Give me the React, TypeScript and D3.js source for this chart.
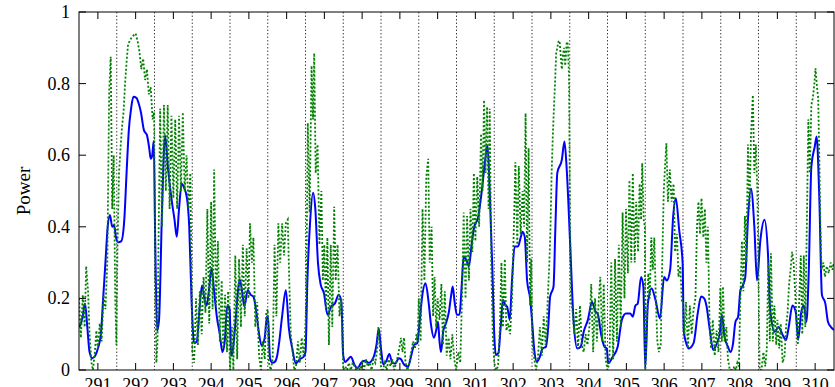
import React from "react";
import * as d3 from "d3";

const xTicks = [291, 292, 293, 294, 295, 296, 297, 298, 299, 300, 301, 302, 303, 304, 305, 306, 307, 308, 309, 310];
const yTicks = [0, 0.2, 0.4, 0.6, 0.8, 1];
const yTickLabels = ["0", "0.2", "0.4", "0.6", "0.8", "1"];
const boundaries = [291.5, 292.5, 293.5, 294.5, 295.5, 296.5, 297.5, 298.5, 299.5, 300.5, 301.5, 302.5, 303.5, 304.5, 305.5, 306.5, 307.5, 308.5, 309.5];
const yLabel = "Power";

const blueSeries: [number, number][] = [
  [290.50,0.12],[290.55,0.13],[290.60,0.15],[290.66,0.186],[290.72,0.12],[290.78,0.05],[290.85,0.033],[290.93,0.04],[291.00,0.06],[291.08,0.10],[291.14,0.20],[291.20,0.30],[291.26,0.40],[291.32,0.433],[291.38,0.40],[291.43,0.405],[291.48,0.37],[291.54,0.357],[291.62,0.36],[291.70,0.42],[291.76,0.55],[291.82,0.67],[291.88,0.73],[291.94,0.763],[292.02,0.76],[292.08,0.745],[292.14,0.72],[292.22,0.67],[292.30,0.656],[292.36,0.62],[292.40,0.59],[292.44,0.60],[292.48,0.64],[292.52,0.35],[292.57,0.11],[292.62,0.14],[292.70,0.45],[292.78,0.655],[292.86,0.56],[292.96,0.47],[293.03,0.42],[293.09,0.372],[293.15,0.45],[293.22,0.52],[293.28,0.51],[293.36,0.48],[293.42,0.40],[293.48,0.20],[293.55,0.075],[293.62,0.08],[293.70,0.18],[293.76,0.237],[293.82,0.20],[293.88,0.18],[293.94,0.22],[294.01,0.285],[294.08,0.22],[294.15,0.15],[294.23,0.10],[294.30,0.05],[294.36,0.08],[294.43,0.18],[294.49,0.17],[294.53,0.04],[294.58,0.06],[294.65,0.14],[294.72,0.23],[294.76,0.252],[294.82,0.22],[294.88,0.177],[294.97,0.223],[295.05,0.21],[295.12,0.205],[295.20,0.16],[295.27,0.10],[295.34,0.068],[295.42,0.09],[295.48,0.15],[295.51,0.14],[295.56,0.033],[295.63,0.02],[295.69,0.023],[295.75,0.04],[295.80,0.075],[295.88,0.15],[295.98,0.223],[296.06,0.116],[296.15,0.06],[296.24,0.019],[296.35,0.03],[296.45,0.037],[296.50,0.05],[296.55,0.25],[296.62,0.41],[296.70,0.495],[296.76,0.45],[296.83,0.30],[296.90,0.24],[296.99,0.214],[297.08,0.155],[297.18,0.177],[297.28,0.186],[297.38,0.21],[297.45,0.19],[297.50,0.04],[297.55,0.022],[297.63,0.03],[297.70,0.037],[297.80,0.014],[297.88,0.005],[297.97,0.02],[298.07,0.026],[298.18,0.02],[298.30,0.035],[298.38,0.07],[298.44,0.116],[298.50,0.06],[298.56,0.016],[298.64,0.025],[298.72,0.045],[298.80,0.02],[298.88,0.018],[298.97,0.033],[299.03,0.03],[299.11,0.015],[299.22,0.01],[299.30,0.04],[299.38,0.07],[299.46,0.075],[299.52,0.13],[299.58,0.196],[299.68,0.242],[299.76,0.19],[299.82,0.13],[299.90,0.09],[299.96,0.11],[300.01,0.135],[300.05,0.08],[300.09,0.05],[300.15,0.11],[300.22,0.13],[300.30,0.163],[300.36,0.21],[300.40,0.233],[300.45,0.19],[300.51,0.154],[300.58,0.155],[300.64,0.24],[300.69,0.317],[300.76,0.307],[300.83,0.29],[300.90,0.35],[300.97,0.40],[301.07,0.425],[301.17,0.50],[301.26,0.587],[301.32,0.628],[301.38,0.50],[301.45,0.28],[301.50,0.10],[301.54,0.042],[301.61,0.047],[301.67,0.12],[301.73,0.196],[301.80,0.18],[301.84,0.177],[301.91,0.14],[301.97,0.25],[302.04,0.345],[302.13,0.345],[302.20,0.37],[302.25,0.386],[302.31,0.37],[302.37,0.25],[302.45,0.20],[302.50,0.14],[302.56,0.056],[302.63,0.023],[302.70,0.035],[302.78,0.06],[302.87,0.065],[302.93,0.12],[302.98,0.205],[303.07,0.233],[303.12,0.40],[303.17,0.55],[303.29,0.587],[303.36,0.638],[303.42,0.56],[303.51,0.354],[303.60,0.14],[303.70,0.06],[303.79,0.065],[303.87,0.107],[303.98,0.14],[304.09,0.19],[304.18,0.163],[304.24,0.158],[304.33,0.10],[304.42,0.065],[304.48,0.06],[304.52,0.019],[304.64,0.037],[304.77,0.065],[304.88,0.14],[304.99,0.158],[305.10,0.158],[305.17,0.149],[305.24,0.18],[305.30,0.185],[305.39,0.26],[305.45,0.233],[305.50,0.005],[305.57,0.186],[305.67,0.228],[305.77,0.196],[305.89,0.144],[306.00,0.26],[306.07,0.25],[306.16,0.28],[306.24,0.43],[306.31,0.48],[306.40,0.39],[306.49,0.30],[306.52,0.11],[306.60,0.07],[306.65,0.06],[306.78,0.075],[306.89,0.158],[306.98,0.205],[307.06,0.20],[307.12,0.18],[307.21,0.112],[307.30,0.056],[307.38,0.07],[307.47,0.10],[307.53,0.154],[307.60,0.093],[307.69,0.065],[307.76,0.05],[307.82,0.07],[307.89,0.135],[307.96,0.149],[308.02,0.223],[308.09,0.237],[308.15,0.26],[308.22,0.42],[308.30,0.507],[308.39,0.40],[308.46,0.25],[308.55,0.363],[308.66,0.42],[308.75,0.326],[308.81,0.168],[308.93,0.107],[309.03,0.12],[309.14,0.098],[309.23,0.084],[309.30,0.12],[309.40,0.18],[309.49,0.16],[309.55,0.084],[309.63,0.16],[309.70,0.18],[309.77,0.135],[309.83,0.27],[309.90,0.568],[309.99,0.624],[310.04,0.652],[310.11,0.484],[310.18,0.21],[310.27,0.186],[310.34,0.135],[310.42,0.12],[310.50,0.112]
];

const greenSeries: [number, number][] = [
  [290.50,0.20],[290.55,0.09],[290.60,0.21],[290.65,0.12],[290.69,0.29],[290.74,0.22],[290.78,0.10],[290.83,0.02],[290.87,0.0],[290.92,0.05],[290.96,0.11],[291.00,0.06],
  [291.05,0.13],[291.10,0.08],[291.15,0.21],[291.20,0.17],[291.25,0.30],[291.30,0.78],[291.34,0.875],[291.38,0.45],[291.42,0.60],[291.46,0.20],[291.49,0.07],
  [291.52,0.35],[291.56,0.55],[291.60,0.62],[291.64,0.68],[291.68,0.72],[291.72,0.80],[291.76,0.86],[291.80,0.91],[291.85,0.92],[291.90,0.93],[291.95,0.935],[292.00,0.94],
  [292.05,0.92],[292.10,0.89],[292.15,0.84],[292.20,0.87],[292.25,0.81],[292.30,0.84],[292.35,0.77],[292.40,0.79],[292.45,0.70],[292.49,0.72],
  [292.52,0.25],[292.55,0.02],[292.58,0.08],
  [292.60,0.30],[292.65,0.73],[292.70,0.40],[292.75,0.74],[292.80,0.50],[292.85,0.74],[292.90,0.45],[292.95,0.71],[293.00,0.48],[293.05,0.70],[293.10,0.45],[293.15,0.71],[293.20,0.50],[293.25,0.72],[293.30,0.50],[293.35,0.60],[293.40,0.45],[293.45,0.55],[293.50,0.05],
  [293.55,0.02],[293.60,0.20],[293.65,0.07],[293.70,0.22],[293.75,0.10],[293.80,0.26],[293.85,0.16],[293.90,0.45],[293.95,0.13],[294.00,0.47],
  [294.04,0.17],[294.08,0.56],[294.13,0.18],[294.18,0.36],[294.23,0.08],[294.28,0.25],[294.32,0.06],[294.37,0.21],[294.42,0.05],[294.45,0.22],[294.50,0.0],
  [294.55,0.12],[294.59,0.0],[294.64,0.32],[294.69,0.03],[294.74,0.31],[294.79,0.12],[294.84,0.35],[294.89,0.15],[294.94,0.34],[294.99,0.20],
  [295.03,0.41],[295.08,0.30],[295.12,0.37],[295.17,0.12],[295.22,0.19],[295.27,0.04],[295.32,0.0],[295.37,0.08],[295.42,0.03],[295.46,0.16],[295.50,0.17],[295.53,0.02],
  [295.58,0.0],[295.63,0.03],[295.68,0.35],[295.73,0.15],[295.78,0.41],[295.83,0.30],[295.88,0.41],[295.93,0.32],[295.98,0.41],[296.03,0.42],
  [296.07,0.25],[296.11,0.10],[296.15,0.06],[296.20,0.0],[296.25,0.01],[296.30,0.08],[296.35,0.02],[296.40,0.09],[296.45,0.04],[296.49,0.10],
  [296.52,0.20],[296.56,0.69],[296.61,0.44],[296.66,0.85],[296.70,0.70],[296.73,0.885],[296.77,0.55],[296.82,0.63],[296.87,0.35],[296.92,0.50],[296.96,0.25],[297.00,0.35],
  [297.04,0.17],[297.08,0.37],[297.12,0.07],[297.17,0.35],[297.21,0.12],[297.26,0.456],[297.30,0.25],[297.35,0.35],[297.40,0.15],[297.45,0.20],[297.50,0.0],
  [297.55,0.01],[297.60,0.0],[297.65,0.02],[297.70,0.0],[297.75,0.02],[297.80,0.01],[297.85,0.0],[297.90,0.01],[297.95,0.0],[298.00,0.02],[298.05,0.0],[298.10,0.03],[298.15,0.01],[298.20,0.02],[298.25,0.0],[298.30,0.03],[298.35,0.02],[298.40,0.06],[298.43,0.12],[298.46,0.08],[298.50,0.01],
  [298.55,0.0],[298.60,0.02],[298.65,0.0],[298.70,0.03],[298.75,0.01],[298.80,0.03],[298.85,0.0],[298.90,0.02],[298.95,0.04],[299.00,0.07],[299.03,0.09],[299.07,0.05],[299.11,0.09],[299.15,0.02],[299.20,0.0],[299.25,0.02],[299.30,0.05],[299.35,0.08],[299.40,0.06],[299.44,0.10],[299.47,0.08],
  [299.50,0.20],[299.55,0.08],[299.60,0.45],[299.65,0.25],[299.70,0.54],[299.75,0.59],[299.79,0.30],[299.84,0.40],[299.88,0.15],[299.92,0.26],[299.96,0.12],[300.00,0.20],
  [300.05,0.14],[300.10,0.24],[300.14,0.07],[300.19,0.22],[300.24,0.04],[300.29,0.09],[300.34,0.03],[300.39,0.10],[300.44,0.03],[300.49,0.0],
  [300.55,0.05],[300.60,0.02],[300.65,0.22],[300.69,0.44],[300.74,0.20],[300.78,0.43],[300.83,0.25],[300.87,0.45],[300.92,0.33],[300.96,0.55],
  [301.00,0.36],[301.05,0.54],[301.10,0.40],[301.15,0.66],[301.19,0.50],[301.23,0.754],[301.27,0.55],[301.31,0.735],[301.35,0.45],[301.38,0.73],[301.42,0.30],[301.46,0.10],[301.50,0.02],
  [301.55,0.0],[301.60,0.01],[301.65,0.12],[301.69,0.30],[301.73,0.12],[301.78,0.31],[301.82,0.11],[301.87,0.13],[301.92,0.10],[301.97,0.20],
  [302.02,0.40],[302.06,0.58],[302.11,0.35],[302.15,0.57],[302.20,0.38],[302.25,0.50],[302.29,0.40],[302.33,0.717],[302.37,0.30],[302.41,0.62],[302.45,0.18],[302.48,0.31],[302.51,0.08],
  [302.56,0.03],[302.61,0.0],[302.66,0.04],[302.71,0.12],[302.76,0.04],[302.81,0.15],[302.86,0.07],[302.90,0.15],[302.93,0.23],[302.96,0.30],[302.99,0.40],
  [303.02,0.55],[303.05,0.65],[303.08,0.73],[303.11,0.80],[303.14,0.885],[303.17,0.90],[303.20,0.917],[303.23,0.92],[303.26,0.88],[303.29,0.84],[303.32,0.88],[303.35,0.90],[303.38,0.85],[303.42,0.917],[303.45,0.91],[303.48,0.82],[303.51,0.40],[303.53,0.19],
  [303.57,0.17],[303.62,0.10],[303.67,0.17],[303.72,0.06],[303.77,0.18],[303.82,0.07],[303.87,0.05],[303.92,0.10],[303.97,0.07],[304.02,0.12],
  [304.07,0.24],[304.12,0.05],[304.17,0.20],[304.22,0.08],[304.27,0.20],[304.31,0.26],[304.36,0.08],[304.40,0.24],[304.45,0.03],[304.50,0.0],
  [304.55,0.02],[304.60,0.30],[304.65,0.03],[304.70,0.31],[304.75,0.08],[304.80,0.35],[304.85,0.12],[304.90,0.44],[304.95,0.20],[304.99,0.45],
  [305.04,0.27],[305.08,0.53],[305.13,0.30],[305.17,0.55],[305.22,0.30],[305.26,0.47],[305.31,0.33],[305.35,0.52],[305.39,0.42],[305.42,0.578],[305.46,0.42],[305.49,0.40],[305.50,0.0],
  [305.54,0.12],[305.58,0.27],[305.62,0.20],[305.66,0.37],[305.70,0.28],[305.74,0.37],[305.78,0.20],[305.82,0.08],[305.86,0.05],[305.91,0.07],[305.95,0.30],[305.99,0.50],
  [306.03,0.58],[306.06,0.633],[306.10,0.47],[306.15,0.56],[306.20,0.47],[306.25,0.52],[306.29,0.33],[306.34,0.38],[306.38,0.26],[306.43,0.29],[306.47,0.19],[306.50,0.19],
  [306.54,0.10],[306.58,0.19],[306.63,0.06],[306.68,0.18],[306.73,0.10],[306.78,0.17],[306.83,0.20],[306.87,0.40],[306.91,0.47],[306.95,0.38],[306.99,0.48],
  [307.04,0.37],[307.08,0.45],[307.12,0.30],[307.16,0.40],[307.20,0.15],[307.24,0.06],[307.29,0.14],[307.34,0.04],[307.39,0.11],[307.44,0.05],[307.49,0.23],
  [307.53,0.08],[307.56,0.233],[307.60,0.08],[307.65,0.12],[307.69,0.03],[307.74,0.0],[307.78,0.0],[307.82,0.0],[307.86,0.01],[307.90,0.0],[307.94,0.02],[307.98,0.01],
  [308.02,0.20],[308.06,0.36],[308.10,0.22],[308.14,0.43],[308.18,0.30],[308.22,0.63],[308.26,0.45],[308.30,0.65],[308.35,0.768],[308.39,0.55],[308.43,0.63],[308.47,0.50],[308.50,0.26],
  [308.53,0.0],[308.58,0.0],[308.63,0.05],[308.68,0.01],[308.72,0.06],[308.76,0.30],[308.80,0.08],[308.83,0.326],[308.88,0.08],[308.92,0.18],[308.97,0.07],[309.00,0.14],
  [309.05,0.06],[309.09,0.13],[309.14,0.02],[309.19,0.04],[309.23,0.12],[309.27,0.16],[309.31,0.24],[309.35,0.28],[309.39,0.33],[309.43,0.30],[309.47,0.22],[309.50,0.15],
  [309.54,0.07],[309.58,0.20],[309.62,0.32],[309.66,0.10],[309.70,0.32],[309.74,0.12],[309.78,0.40],[309.82,0.70],[309.86,0.55],[309.90,0.74],[309.94,0.76],[309.98,0.80],
  [310.01,0.843],[310.05,0.79],[310.08,0.76],[310.11,0.60],[310.14,0.40],[310.17,0.28],[310.22,0.30],[310.26,0.26],[310.31,0.29],[310.36,0.27],[310.41,0.30],[310.46,0.28],[310.50,0.30]
];

const W = 835;
const H = 387;
const M = { left: 79, right: 834, top: 12, bottom: 370 };

export default function App() {
  const x = d3.scaleLinear().domain([290.5, 310.5]).range([M.left, M.right]);
  const y = d3.scaleLinear().domain([0, 1]).range([M.bottom, M.top]);

  const blueLine = d3
    .line<[number, number]>()
    .x((d) => x(d[0]))
    .y((d) => y(d[1]))
    .curve(d3.curveMonotoneX);
  const greenLine = d3
    .line<[number, number]>()
    .x((d) => x(d[0]))
    .y((d) => y(d[1]));

  const font = "'Liberation Serif', 'Times New Roman', serif";
  const tickLen = 7;

  return (
    <div style={{ position: "fixed", left: 0, top: 0, width: W, height: H, background: "#fff" }}>
      <svg width={W} height={H} viewBox={`0 0 ${W} ${H}`} style={{ display: "block" }}>
        <defs>
          <clipPath id="plotClip">
            <rect x={M.left} y={M.top - 2} width={M.right - M.left} height={M.bottom - M.top + 2} />
          </clipPath>
        </defs>
        <rect x={0} y={0} width={W} height={H} fill="#fff" />
        {boundaries.map((b) => (
          <line
            key={`b${b}`}
            x1={x(b)}
            x2={x(b)}
            y1={M.top}
            y2={M.bottom}
            stroke="#444"
            strokeWidth={1}
            strokeDasharray="1.5,2"
          />
        ))}
        <g clipPath="url(#plotClip)">
          <path d={blueLine(blueSeries) || ""} fill="none" stroke="#0000ff" strokeWidth={2} strokeLinejoin="round" />
          <path
            d={greenLine(greenSeries) || ""}
            fill="none"
            stroke="#008000"
            strokeWidth={1.8}
            strokeDasharray="2,2"
          />
        </g>
        <rect
          x={M.left}
          y={M.top}
          width={M.right - M.left}
          height={M.bottom - M.top}
          fill="none"
          stroke="#000"
          strokeWidth={1}
        />
        {yTicks.map((t, i) => (
          <g key={`y${t}`}>
            <line x1={M.left} x2={M.left + tickLen} y1={y(t)} y2={y(t)} stroke="#000" />
            <line x1={M.right} x2={M.right - tickLen} y1={y(t)} y2={y(t)} stroke="#000" />
            <text
              x={M.left - 9}
              y={y(t)}
              textAnchor="end"
              dominantBaseline="central"
              fontFamily={font}
              fontSize={18}
              fill="#000"
            >
              {yTickLabels[i]}
            </text>
          </g>
        ))}
        {xTicks.map((t) => (
          <g key={`x${t}`}>
            <line x1={x(t)} x2={x(t)} y1={M.bottom} y2={M.bottom - tickLen} stroke="#000" />
            <line x1={x(t)} x2={x(t)} y1={M.top} y2={M.top + tickLen} stroke="#000" />
            <text x={x(t)} y={M.bottom + 20.5} textAnchor="middle" fontFamily={font} fontSize={18} fill="#000">
              {t}
            </text>
          </g>
        ))}
        <text
          transform={`translate(30, ${(M.top + M.bottom) / 2}) rotate(-90)`}
          textAnchor="middle"
          fontFamily={font}
          fontSize={19}
          fill="#000"
        >
          {yLabel}
        </text>
      </svg>
    </div>
  );
}
